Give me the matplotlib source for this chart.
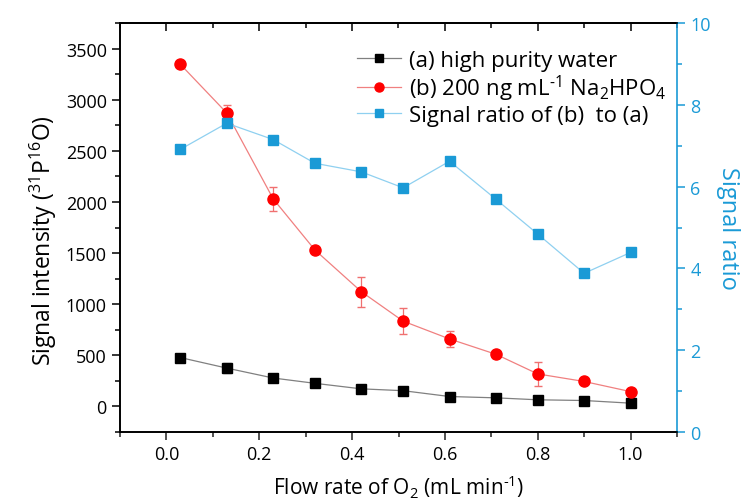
import matplotlib
matplotlib.use("Agg")
import matplotlib.pyplot as plt
from matplotlib.ticker import MultipleLocator
from matplotlib.lines import Line2D

plt.rcParams['font.family'] = ['Open Sans', 'DejaVu Sans']
plt.rcParams['mathtext.fontset'] = 'custom'
plt.rcParams['mathtext.rm'] = 'Open Sans'
plt.rcParams['mathtext.it'] = 'Open Sans'
plt.rcParams['mathtext.bf'] = 'Open Sans'

# Data
flow = [0.03, 0.13, 0.23, 0.32, 0.42, 0.51, 0.61, 0.71, 0.80, 0.90, 1.00]
water = [478, 375, 278, 226, 172, 154, 97, 84, 65, 58, 32]
water_err = [10, 50, 10, 10, 10, 10, 10, 10, 10, 10, 10]
na2hpo4 = [3346, 2870, 2030, 1530, 1122, 834, 660, 510, 318, 244, 145]
na2hpo4_err = [20, 80, 115, 20, 145, 130, 75, 35, 115, 20, 20]
ratio = [6.91, 7.55, 7.15, 6.57, 6.36, 5.97, 6.62, 5.69, 4.84, 3.88, 4.39]

label_a = "(a) high purity water"
label_b = "(b) 200 ng mL$^{\\text{-}1}$ Na$_2$HPO$_4$"
label_r = "Signal ratio of (b)  to (a)"

blue = '#1a9ad6'
line_blue = '#8fd0f0'

fig = plt.figure(figsize=(7.45, 5.02), dpi=100)
ax = fig.add_axes([120/745, 69/502, 557/745, 409/502])
ax2 = ax.twinx()

ax.errorbar(flow, water, yerr=water_err, color='#808080', lw=0.9,
            marker='s', ms=6.8, mfc='black', mec='black', ecolor='#999999',
            elinewidth=0.9, capsize=3, zorder=3)
ax.errorbar(flow, na2hpo4, yerr=na2hpo4_err, color='#f08080', lw=0.9,
            marker='o', ms=8, mfc='#ff0000', mec='#ff0000', ecolor='#f07070',
            elinewidth=0.9, capsize=3, zorder=3)
ax2.plot(flow, ratio, color=line_blue, lw=0.9, marker='s', ms=6.8,
         mfc=blue, mec=blue)

ax.set_xlim(-0.1, 1.1)
ax.set_ylim(-250, 3750)
ax2.set_ylim(0, 10)

ax.xaxis.set_major_locator(MultipleLocator(0.2))
ax.xaxis.set_minor_locator(MultipleLocator(0.1))
ax.yaxis.set_minor_locator(MultipleLocator(250))
ax.set_yticks([0, 500, 1000, 1500, 2000, 2500, 3000, 3500])
ax2.yaxis.set_major_locator(MultipleLocator(2))
ax2.yaxis.set_minor_locator(MultipleLocator(1))

ax.tick_params(axis='x', which='both', direction='out', top=False,
               labelsize=13, width=1.1, color='#222222')
ax.tick_params(axis='x', which='major', length=6)
ax.tick_params(axis='x', which='minor', length=3.5)
ax.tick_params(axis='y', which='both', direction='out', right=False,
               labelsize=13, width=1.1)
ax.tick_params(axis='y', which='major', length=6)
ax.tick_params(axis='y', which='minor', length=3.5)

# top axis with inward ticks, no labels
sec = ax.secondary_xaxis('top')
sec.xaxis.set_major_locator(MultipleLocator(0.2))
sec.xaxis.set_minor_locator(MultipleLocator(0.1))
sec.tick_params(axis='x', which='both', direction='in', labeltop=False, width=1.1)
sec.tick_params(axis='x', which='major', length=6)
sec.tick_params(axis='x', which='minor', length=3.5)
sec.spines['top'].set_linewidth(1.2)

ax2.tick_params(axis='y', which='both', direction='out', colors=blue,
                labelsize=13, width=1.1)
ax2.tick_params(axis='y', which='major', length=6)
ax2.tick_params(axis='y', which='minor', length=3.5)
ax2.spines['right'].set_color(blue)
for s in ['left', 'bottom', 'top']:
    ax.spines[s].set_linewidth(1.2)
    ax2.spines[s].set_linewidth(1.2)
ax2.spines['right'].set_linewidth(1.2)
ax.spines['right'].set_visible(False)

ax.set_xlabel("Flow rate of O$_2$ (mL min$^{\\text{-}1}$)", fontsize=15, labelpad=7)
ax.set_ylabel("Signal intensity ($^{31}$P$^{16}$O)", fontsize=16.5, labelpad=5)
ax.yaxis.label.set_y(0.47)
ax2.set_ylabel("Signal ratio", fontsize=17, color=blue, rotation=270, labelpad=21)

handles = [
    Line2D([], [], color='#808080', lw=0.9, marker='s', ms=6, mfc='black', mec='black'),
    Line2D([], [], color='#f08080', lw=0.9, marker='o', ms=6.5, mfc='#ff0000', mec='#ff0000'),
    Line2D([], [], color=line_blue, lw=0.9, marker='s', ms=6, mfc=blue, mec=blue),
]
leg = ax.legend(handles, [label_a, label_b, label_r], loc='upper left',
                bbox_to_anchor=(0.425, 0.935), frameon=False, fontsize=16,
                handlelength=2.0, handletextpad=0.35, labelspacing=0.1,
                borderpad=0, borderaxespad=0)

fig.savefig("out.png", dpi=100)
